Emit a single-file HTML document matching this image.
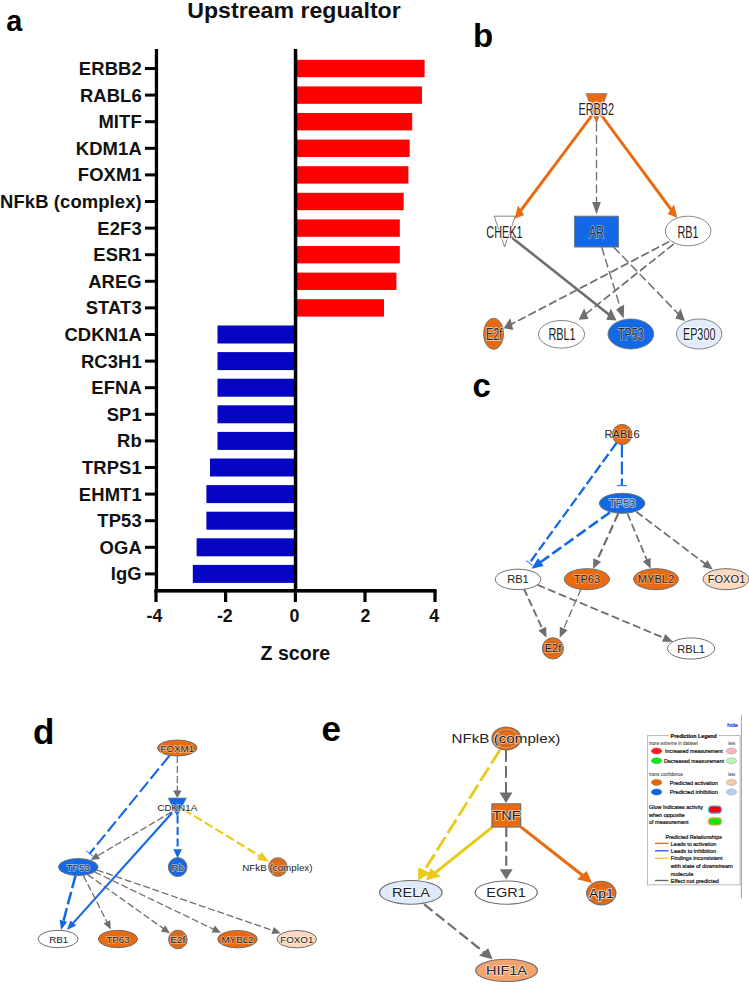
<!DOCTYPE html>
<html lang="en"><head><meta charset="utf-8"><title>Upstream regulator figure</title>
<style>
html,body{margin:0;padding:0;background:#fff;}
body{width:749px;height:985px;overflow:hidden;}
svg{display:block;}
</style></head><body>
<svg width="749" height="985" viewBox="0 0 749 985">
<rect width="749" height="985" fill="#fff"/>
<g id="panelA">
<rect x="296" y="59.8" width="128.6" height="17.4" fill="#ff0000"/>
<rect x="145" y="67.0" width="10" height="3" fill="#000"/>
<text x="141.8" y="75.0" text-anchor="end" font-family="Liberation Sans, Arial, sans-serif" font-size="18.4" font-weight="bold" letter-spacing="0.12" fill="#111">ERBB2</text>
<rect x="296" y="86.4" width="126.0" height="17.4" fill="#ff0000"/>
<rect x="145" y="93.6" width="10" height="3" fill="#000"/>
<text x="141.8" y="101.6" text-anchor="end" font-family="Liberation Sans, Arial, sans-serif" font-size="18.4" font-weight="bold" letter-spacing="0.12" fill="#111">RABL6</text>
<rect x="296" y="113.0" width="116.2" height="17.4" fill="#ff0000"/>
<rect x="145" y="120.2" width="10" height="3" fill="#000"/>
<text x="141.8" y="128.2" text-anchor="end" font-family="Liberation Sans, Arial, sans-serif" font-size="18.4" font-weight="bold" letter-spacing="0.12" fill="#111">MITF</text>
<rect x="296" y="139.6" width="113.7" height="17.4" fill="#ff0000"/>
<rect x="145" y="146.8" width="10" height="3" fill="#000"/>
<text x="141.8" y="154.8" text-anchor="end" font-family="Liberation Sans, Arial, sans-serif" font-size="18.4" font-weight="bold" letter-spacing="0.12" fill="#111">KDM1A</text>
<rect x="296" y="166.2" width="112.4" height="17.4" fill="#ff0000"/>
<rect x="145" y="173.4" width="10" height="3" fill="#000"/>
<text x="141.8" y="181.4" text-anchor="end" font-family="Liberation Sans, Arial, sans-serif" font-size="18.4" font-weight="bold" letter-spacing="0.12" fill="#111">FOXM1</text>
<rect x="296" y="192.8" width="107.7" height="17.4" fill="#ff0000"/>
<rect x="145" y="200.0" width="10" height="3" fill="#000"/>
<text x="141.8" y="208.0" text-anchor="end" font-family="Liberation Sans, Arial, sans-serif" font-size="18.4" font-weight="bold" letter-spacing="0.12" fill="#111">NFkB (complex)</text>
<rect x="296" y="219.4" width="103.8" height="17.4" fill="#ff0000"/>
<rect x="145" y="226.6" width="10" height="3" fill="#000"/>
<text x="141.8" y="234.6" text-anchor="end" font-family="Liberation Sans, Arial, sans-serif" font-size="18.4" font-weight="bold" letter-spacing="0.12" fill="#111">E2F3</text>
<rect x="296" y="246.0" width="103.8" height="17.4" fill="#ff0000"/>
<rect x="145" y="253.2" width="10" height="3" fill="#000"/>
<text x="141.8" y="261.2" text-anchor="end" font-family="Liberation Sans, Arial, sans-serif" font-size="18.4" font-weight="bold" letter-spacing="0.12" fill="#111">ESR1</text>
<rect x="296" y="272.6" width="100.4" height="17.4" fill="#ff0000"/>
<rect x="145" y="279.8" width="10" height="3" fill="#000"/>
<text x="141.8" y="287.8" text-anchor="end" font-family="Liberation Sans, Arial, sans-serif" font-size="18.4" font-weight="bold" letter-spacing="0.12" fill="#111">AREG</text>
<rect x="296" y="299.2" width="88.0" height="17.4" fill="#ff0000"/>
<rect x="145" y="306.4" width="10" height="3" fill="#000"/>
<text x="141.8" y="314.4" text-anchor="end" font-family="Liberation Sans, Arial, sans-serif" font-size="18.4" font-weight="bold" letter-spacing="0.12" fill="#111">STAT3</text>
<rect x="217.5" y="325.5" width="78.5" height="18.0" fill="#0505c2"/>
<rect x="145" y="333.0" width="10" height="3" fill="#000"/>
<text x="141.8" y="341.0" text-anchor="end" font-family="Liberation Sans, Arial, sans-serif" font-size="18.4" font-weight="bold" letter-spacing="0.12" fill="#111">CDKN1A</text>
<rect x="217.5" y="352.1" width="78.5" height="18.0" fill="#0505c2"/>
<rect x="145" y="359.6" width="10" height="3" fill="#000"/>
<text x="141.8" y="367.6" text-anchor="end" font-family="Liberation Sans, Arial, sans-serif" font-size="18.4" font-weight="bold" letter-spacing="0.12" fill="#111">RC3H1</text>
<rect x="217.5" y="378.7" width="78.5" height="18.0" fill="#0505c2"/>
<rect x="145" y="386.2" width="10" height="3" fill="#000"/>
<text x="141.8" y="394.2" text-anchor="end" font-family="Liberation Sans, Arial, sans-serif" font-size="18.4" font-weight="bold" letter-spacing="0.12" fill="#111">EFNA</text>
<rect x="217.5" y="405.3" width="78.5" height="18.0" fill="#0505c2"/>
<rect x="145" y="412.8" width="10" height="3" fill="#000"/>
<text x="141.8" y="420.8" text-anchor="end" font-family="Liberation Sans, Arial, sans-serif" font-size="18.4" font-weight="bold" letter-spacing="0.12" fill="#111">SP1</text>
<rect x="217.5" y="431.9" width="78.5" height="18.0" fill="#0505c2"/>
<rect x="145" y="439.4" width="10" height="3" fill="#000"/>
<text x="141.8" y="447.4" text-anchor="end" font-family="Liberation Sans, Arial, sans-serif" font-size="18.4" font-weight="bold" letter-spacing="0.12" fill="#111">Rb</text>
<rect x="210.0" y="458.5" width="86.0" height="18.0" fill="#0505c2"/>
<rect x="145" y="466.0" width="10" height="3" fill="#000"/>
<text x="141.8" y="474.0" text-anchor="end" font-family="Liberation Sans, Arial, sans-serif" font-size="18.4" font-weight="bold" letter-spacing="0.12" fill="#111">TRPS1</text>
<rect x="206.4" y="485.1" width="89.6" height="18.0" fill="#0505c2"/>
<rect x="145" y="492.6" width="10" height="3" fill="#000"/>
<text x="141.8" y="500.6" text-anchor="end" font-family="Liberation Sans, Arial, sans-serif" font-size="18.4" font-weight="bold" letter-spacing="0.12" fill="#111">EHMT1</text>
<rect x="206.4" y="511.7" width="89.6" height="18.0" fill="#0505c2"/>
<rect x="145" y="519.2" width="10" height="3" fill="#000"/>
<text x="141.8" y="527.2" text-anchor="end" font-family="Liberation Sans, Arial, sans-serif" font-size="18.4" font-weight="bold" letter-spacing="0.12" fill="#111">TP53</text>
<rect x="196.6" y="538.3" width="99.4" height="18.0" fill="#0505c2"/>
<rect x="145" y="545.8" width="10" height="3" fill="#000"/>
<text x="141.8" y="553.8" text-anchor="end" font-family="Liberation Sans, Arial, sans-serif" font-size="18.4" font-weight="bold" letter-spacing="0.12" fill="#111">OGA</text>
<rect x="192.8" y="564.9" width="103.2" height="18.0" fill="#0505c2"/>
<rect x="145" y="572.4" width="10" height="3" fill="#000"/>
<text x="141.8" y="580.4" text-anchor="end" font-family="Liberation Sans, Arial, sans-serif" font-size="18.4" font-weight="bold" letter-spacing="0.12" fill="#111">IgG</text>
<rect x="154.8" y="49" width="3.3" height="543" fill="#000"/>
<rect x="293.8" y="49" width="3.5" height="543" fill="#000"/>
<rect x="154.5" y="589" width="282" height="3.6" fill="#000"/>
<rect x="154.4" y="590" width="3.2" height="12" fill="#000"/>
<text x="154.5" y="621.8" text-anchor="middle" font-family="Liberation Sans, Arial, sans-serif" font-size="17.8" font-weight="bold" fill="#111">-4</text>
<rect x="224.0" y="590" width="3.2" height="12" fill="#000"/>
<text x="224.8" y="621.8" text-anchor="middle" font-family="Liberation Sans, Arial, sans-serif" font-size="17.8" font-weight="bold" fill="#111">-2</text>
<rect x="293.8" y="590" width="3.2" height="12" fill="#000"/>
<text x="294.4" y="621.8" text-anchor="middle" font-family="Liberation Sans, Arial, sans-serif" font-size="17.8" font-weight="bold" fill="#111">0</text>
<rect x="363.4" y="590" width="3.2" height="12" fill="#000"/>
<text x="365.4" y="621.8" text-anchor="middle" font-family="Liberation Sans, Arial, sans-serif" font-size="17.8" font-weight="bold" fill="#111">2</text>
<rect x="433.4" y="590" width="3.2" height="12" fill="#000"/>
<text x="434.3" y="621.8" text-anchor="middle" font-family="Liberation Sans, Arial, sans-serif" font-size="17.8" font-weight="bold" fill="#111">4</text>
<text x="295.4" y="659.5" text-anchor="middle" font-family="Liberation Sans, Arial, sans-serif" font-size="19.6" font-weight="bold" fill="#111">Z score</text>
<text x="294" y="17.7" text-anchor="middle" font-family="Liberation Sans, Arial, sans-serif" font-size="21.5" font-weight="bold" fill="#111" textLength="213.5" lengthAdjust="spacingAndGlyphs">Upstream regualtor</text>
</g>
<text x="6.2" y="30.6" font-family="Liberation Sans, Arial, sans-serif" font-size="28.8" font-weight="bold" fill="#000">a</text>
<text x="473" y="46.7" font-family="Liberation Sans, Arial, sans-serif" font-size="33" font-weight="bold" fill="#000">b</text>
<text x="472.5" y="396.5" font-family="Liberation Sans, Arial, sans-serif" font-size="33" font-weight="bold" fill="#000">c</text>
<text x="33" y="744" font-family="Liberation Sans, Arial, sans-serif" font-size="35" font-weight="bold" fill="#000">d</text>
<text x="321.5" y="741" font-family="Liberation Sans, Arial, sans-serif" font-size="35" font-weight="bold" fill="#000">e</text>
<g id="panelB" transform="matrix(0.7 0 0 1 180.000 0)">
<line x1="590.0" y1="114.0" x2="485.4" y2="211.9" stroke="#ea6b0f" stroke-width="3.66"/>
<polygon points="478.1,218.7 482.8,205.4 491.7,214.9" fill="#ea6b0f"/>
<line x1="600.7" y1="114.0" x2="703.0" y2="210.9" stroke="#ea6b0f" stroke-width="3.66"/>
<polygon points="710.3,217.8 696.7,213.9 705.7,204.5" fill="#ea6b0f"/>
<line x1="595.0" y1="122.9" x2="595.0" y2="204.5" stroke="#6e6e6e" stroke-width="1.86" stroke-dasharray="8.50 3.80"/>
<polygon points="595.0,214.5 588.8,202.0 601.2,202.0" fill="#6e6e6e"/>
<line x1="472.9" y1="236.9" x2="614.5" y2="315.4" stroke="#6e6e6e" stroke-width="2.90"/>
<polygon points="623.6,320.4 609.0,319.8 615.4,308.4" fill="#6e6e6e"/>
<line x1="602.3" y1="246.9" x2="629.8" y2="309.4" stroke="#6e6e6e" stroke-width="1.92" stroke-dasharray="9.40 3.66"/>
<polygon points="633.9,318.5 623.1,309.6 634.5,304.5" fill="#6e6e6e"/>
<line x1="619.3" y1="246.9" x2="713.3" y2="315.0" stroke="#6e6e6e" stroke-width="1.81" stroke-dasharray="11.03 4.29"/>
<polygon points="721.4,320.9 707.6,318.6 715.0,308.5" fill="#6e6e6e"/>
<line x1="699.1" y1="241.5" x2="471.7" y2="324.9" stroke="#6e6e6e" stroke-width="1.85" stroke-dasharray="11.32 4.31"/>
<polygon points="462.3,328.3 471.9,318.1 476.2,329.9" fill="#6e6e6e"/>
<line x1="705.3" y1="244.0" x2="578.3" y2="314.8" stroke="#6e6e6e" stroke-width="1.84" stroke-dasharray="10.75 4.09"/>
<polygon points="569.6,319.7 577.4,308.2 583.5,319.1" fill="#6e6e6e"/>
<polygon points="580.0,93.6 610.0,93.6 595.0,122.9" fill="#ea6b0f" stroke="#8a7a70" stroke-width="0.9"/>
<polygon points="448.9,216.2 478.9,216.2 463.7,246.8" fill="#fff" stroke="#6e6e6e" stroke-width="1"/>
<rect x="563.3" y="216.2" width="63.3" height="30.8" fill="#1268e6" stroke="#6e6e6e" stroke-width="1"/>
<ellipse cx="725.9" cy="231.0" rx="32.6" ry="14.8" fill="#fff" stroke="#6e6e6e" stroke-width="1"/>
<ellipse cx="448.0" cy="333.8" rx="14.3" ry="15.6" fill="#ea6b0f" stroke="#6e6e6e" stroke-width="1"/>
<ellipse cx="448.0" cy="333.8" rx="9.7" ry="10.6" fill="none" stroke="#8a6e5c" stroke-width="0.8" opacity="0.8"/>
<ellipse cx="545.0" cy="334.3" rx="32.9" ry="13.8" fill="#fff" stroke="#6e6e6e" stroke-width="1"/>
<ellipse cx="644.1" cy="334.0" rx="32.7" ry="15.0" fill="#1268e6" stroke="#6e6e6e" stroke-width="1"/>
<ellipse cx="741.7" cy="334.0" rx="32.4" ry="15.0" fill="#e2ecfb" stroke="#6e6e6e" stroke-width="1"/>
<text transform="translate(594.7,114.9) scale(0.9500,1)" text-anchor="middle" font-family="Liberation Sans, Arial, sans-serif" font-size="16.3" font-weight="normal" fill="#222" stroke="#fff" stroke-width="2.4" stroke-opacity="0.9" stroke-linejoin="round" paint-order="stroke">ERBB2</text>
<text transform="translate(463.4,237.7) scale(0.9500,1)" text-anchor="middle" font-family="Liberation Sans, Arial, sans-serif" font-size="16.3" font-weight="normal" fill="#222" stroke="#fff" stroke-width="2.4" stroke-opacity="0.9" stroke-linejoin="round" paint-order="stroke">CHEK1</text>
<text transform="translate(594.9,237.6) scale(0.9500,1)" text-anchor="middle" font-family="Liberation Sans, Arial, sans-serif" font-size="16.3" font-weight="normal" fill="#2a2a2a" stroke="#fff" stroke-width="1.7" stroke-opacity="0.55" stroke-linejoin="round" paint-order="stroke">AR</text>
<text transform="translate(725.7,237.6) scale(0.9500,1)" text-anchor="middle" font-family="Liberation Sans, Arial, sans-serif" font-size="16.3" font-weight="normal" fill="#222" stroke="#fff" stroke-width="2.4" stroke-opacity="0.9" stroke-linejoin="round" paint-order="stroke">RB1</text>
<text transform="translate(448.7,339.9) scale(0.9500,1)" text-anchor="middle" font-family="Liberation Sans, Arial, sans-serif" font-size="16.3" font-weight="normal" fill="#2a2a2a" stroke="#fff" stroke-width="1.8" stroke-opacity="0.6" stroke-linejoin="round" paint-order="stroke">E2f</text>
<text transform="translate(545.7,340.2) scale(0.9500,1)" text-anchor="middle" font-family="Liberation Sans, Arial, sans-serif" font-size="16.3" font-weight="normal" fill="#222" stroke="#fff" stroke-width="2.4" stroke-opacity="0.9" stroke-linejoin="round" paint-order="stroke">RBL1</text>
<text transform="translate(644.1,340.0) scale(0.9500,1)" text-anchor="middle" font-family="Liberation Sans, Arial, sans-serif" font-size="16.3" font-weight="normal" fill="#2a2a2a" stroke="#fff" stroke-width="1.7" stroke-opacity="0.55" stroke-linejoin="round" paint-order="stroke">TP53</text>
<text transform="translate(741.7,340.0) scale(0.9500,1)" text-anchor="middle" font-family="Liberation Sans, Arial, sans-serif" font-size="16.3" font-weight="normal" fill="#222" stroke="#fff" stroke-width="2.4" stroke-opacity="0.9" stroke-linejoin="round" paint-order="stroke">EP300</text>
</g>
<g id="panelC">
<line x1="621.9" y1="444.6" x2="621.9" y2="485.6" stroke="#1268e6" stroke-width="2.20" stroke-dasharray="13.00 4.00"/>
<line x1="616.9" y1="485.6" x2="626.9" y2="485.6" stroke="#1268e6" stroke-width="1.0"/>
<line x1="616.5" y1="443.0" x2="529.5" y2="563.0" stroke="#1268e6" stroke-width="2.30" stroke-dasharray="10.00 3.60"/>
<line x1="526.1" y1="560.5" x2="532.9" y2="565.5" stroke="#1268e6" stroke-width="1.0"/>
<line x1="610.0" y1="512.4" x2="539.0" y2="563.3" stroke="#1268e6" stroke-width="2.60" stroke-dasharray="11.00 4.00"/>
<polygon points="531.5,568.7 538.1,558.1 543.6,565.9" fill="#1268e6"/>
<line x1="618.3" y1="513.4" x2="596.4" y2="561.8" stroke="#6e6e6e" stroke-width="2.20" stroke-dasharray="9.00 4.00"/>
<polygon points="593.1,569.1 593.3,558.2 601.1,561.7" fill="#6e6e6e"/>
<line x1="627.3" y1="513.4" x2="647.5" y2="561.4" stroke="#6e6e6e" stroke-width="1.70" stroke-dasharray="8.00 3.50"/>
<polygon points="650.6,568.8 642.8,561.2 650.6,557.9" fill="#6e6e6e"/>
<line x1="636.3" y1="511.7" x2="706.4" y2="564.7" stroke="#6e6e6e" stroke-width="1.70" stroke-dasharray="8.00 3.50"/>
<polygon points="712.8,569.5 702.3,566.9 707.4,560.1" fill="#6e6e6e"/>
<line x1="523.8" y1="588.5" x2="543.1" y2="630.4" stroke="#6e6e6e" stroke-width="1.90" stroke-dasharray="8.00 3.50"/>
<polygon points="546.5,637.7 538.5,630.4 546.2,626.8" fill="#6e6e6e"/>
<line x1="581.3" y1="588.5" x2="562.9" y2="630.4" stroke="#6e6e6e" stroke-width="1.30" stroke-dasharray="8.00 3.50"/>
<polygon points="559.7,637.7 559.8,626.8 567.6,630.3" fill="#6e6e6e"/>
<line x1="537.5" y1="584.9" x2="665.5" y2="638.6" stroke="#6e6e6e" stroke-width="1.80" stroke-dasharray="8.00 3.50"/>
<polygon points="672.9,641.7 662.0,641.8 665.3,633.9" fill="#6e6e6e"/>
<ellipse cx="622.1" cy="434.5" rx="9.8" ry="10.1" fill="#ea6b0f" stroke="#6e6e6e" stroke-width="1"/>
<ellipse cx="622.1" cy="503.3" rx="22.7" ry="10.0" fill="#1268e6" stroke="#6e6e6e" stroke-width="1"/>
<ellipse cx="518.0" cy="579.4" rx="22.8" ry="10.2" fill="#fff" stroke="#6e6e6e" stroke-width="1"/>
<ellipse cx="586.9" cy="579.2" rx="22.6" ry="10.5" fill="#ea6b0f" stroke="#6e6e6e" stroke-width="1"/>
<ellipse cx="656.0" cy="579.2" rx="22.4" ry="10.5" fill="#ea6b0f" stroke="#6e6e6e" stroke-width="1"/>
<ellipse cx="726.0" cy="579.2" rx="23.0" ry="10.5" fill="#fad9c0" stroke="#6e6e6e" stroke-width="1"/>
<ellipse cx="552.9" cy="648.4" rx="10.6" ry="10.6" fill="#ea6b0f" stroke="#6e6e6e" stroke-width="1"/>
<ellipse cx="552.9" cy="648.4" rx="7.2" ry="7.2" fill="none" stroke="#8a6e5c" stroke-width="0.8" opacity="0.8"/>
<ellipse cx="691.1" cy="648.5" rx="23.6" ry="10.6" fill="#fff" stroke="#6e6e6e" stroke-width="1"/>
<text transform="translate(622.1,438.3) scale(1.0000,1)" text-anchor="middle" font-family="Liberation Sans, Arial, sans-serif" font-size="11.1" font-weight="normal" fill="#222" stroke="#fff" stroke-width="1.4" stroke-opacity="0.5" stroke-linejoin="round" paint-order="stroke">RABL6</text>
<text transform="translate(622.1,507.4) scale(1.0000,1)" text-anchor="middle" font-family="Liberation Sans, Arial, sans-serif" font-size="11" font-weight="normal" fill="#444" stroke="#fff" stroke-width="1.8" stroke-opacity="0.6" stroke-linejoin="round" paint-order="stroke">TP53</text>
<text transform="translate(518.0,583.3) scale(1.0000,1)" text-anchor="middle" font-family="Liberation Sans, Arial, sans-serif" font-size="11.1" font-weight="normal" fill="#222" stroke="#fff" stroke-width="1.4" stroke-opacity="0.5" stroke-linejoin="round" paint-order="stroke">RB1</text>
<text transform="translate(586.9,583.1) scale(1.0000,1)" text-anchor="middle" font-family="Liberation Sans, Arial, sans-serif" font-size="11.1" font-weight="normal" fill="#222" stroke="#fff" stroke-width="1.4" stroke-opacity="0.5" stroke-linejoin="round" paint-order="stroke">TP63</text>
<text transform="translate(656.0,583.1) scale(1.0000,1)" text-anchor="middle" font-family="Liberation Sans, Arial, sans-serif" font-size="11.1" font-weight="normal" fill="#222" stroke="#fff" stroke-width="1.4" stroke-opacity="0.5" stroke-linejoin="round" paint-order="stroke">MYBL2</text>
<text transform="translate(726.5,583.1) scale(1.0000,1)" text-anchor="middle" font-family="Liberation Sans, Arial, sans-serif" font-size="11.1" font-weight="normal" fill="#222" stroke="#fff" stroke-width="1.4" stroke-opacity="0.5" stroke-linejoin="round" paint-order="stroke">FOXO1</text>
<text transform="translate(553.0,652.0) scale(1.0000,1)" text-anchor="middle" font-family="Liberation Sans, Arial, sans-serif" font-size="11.1" font-weight="normal" fill="#222" stroke="#fff" stroke-width="1.4" stroke-opacity="0.5" stroke-linejoin="round" paint-order="stroke">E2f</text>
<text transform="translate(691.1,652.6) scale(1.0000,1)" text-anchor="middle" font-family="Liberation Sans, Arial, sans-serif" font-size="11.1" font-weight="normal" fill="#222" stroke="#fff" stroke-width="1.4" stroke-opacity="0.5" stroke-linejoin="round" paint-order="stroke">RBL1</text>
</g>
<g id="panelD">
<line x1="177.3" y1="756.3" x2="177.3" y2="792.1" stroke="#6e6e6e" stroke-width="1.20" stroke-dasharray="7.00 2.80"/>
<polygon points="177.3,798.1 173.1,790.6 181.6,790.6" fill="#6e6e6e"/>
<line x1="169.6" y1="755.5" x2="89.7" y2="853.6" stroke="#1268e6" stroke-width="2.10" stroke-dasharray="13.00 4.00"/>
<line x1="86.2" y1="850.8" x2="93.2" y2="856.4" stroke="#1268e6" stroke-width="1.0"/>
<line x1="171.7" y1="811.9" x2="96.5" y2="856.5" stroke="#6e6e6e" stroke-width="1.30" stroke-dasharray="7.00 2.80"/>
<polygon points="90.7,860.0 96.1,852.4 99.9,858.9" fill="#6e6e6e"/>
<line x1="172.2" y1="812.8" x2="72.0" y2="924.4" stroke="#1268e6" stroke-width="2.10"/>
<polygon points="66.9,930.1 70.4,920.4 76.2,925.6" fill="#1268e6"/>
<line x1="177.6" y1="815.5" x2="177.6" y2="851.0" stroke="#1268e6" stroke-width="2.10" stroke-dasharray="8.00 3.50"/>
<polygon points="177.6,858.2 173.3,849.2 181.9,849.2" fill="#1268e6"/>
<line x1="183.5" y1="809.3" x2="261.4" y2="857.1" stroke="#eccb1c" stroke-width="2.20" stroke-dasharray="9.00 3.50"/>
<polygon points="268.9,861.7 257.2,859.8 261.9,852.1" fill="#eccb1c"/>
<line x1="75.5" y1="875.6" x2="63.0" y2="922.7" stroke="#1268e6" stroke-width="2.50" stroke-dasharray="13.00 3.80"/>
<polygon points="61.0,930.1 59.7,919.8 67.2,921.8" fill="#1268e6"/>
<line x1="83.4" y1="875.6" x2="107.7" y2="923.4" stroke="#6e6e6e" stroke-width="1.30" stroke-dasharray="7.00 2.80"/>
<polygon points="110.8,929.5 103.6,923.6 110.3,920.2" fill="#6e6e6e"/>
<line x1="87.7" y1="874.6" x2="164.4" y2="929.3" stroke="#6e6e6e" stroke-width="1.30" stroke-dasharray="7.00 2.80"/>
<polygon points="169.9,933.3 160.8,931.4 165.2,925.3" fill="#6e6e6e"/>
<line x1="94.8" y1="872.0" x2="214.8" y2="929.8" stroke="#6e6e6e" stroke-width="1.30" stroke-dasharray="7.00 2.80"/>
<polygon points="220.9,932.7 211.6,932.4 214.9,925.6" fill="#6e6e6e"/>
<line x1="96.9" y1="870.0" x2="274.3" y2="931.0" stroke="#6e6e6e" stroke-width="1.30" stroke-dasharray="7.00 2.80"/>
<polygon points="280.7,933.2 271.4,934.0 273.9,926.9" fill="#6e6e6e"/>
<ellipse cx="177.3" cy="748.0" rx="19.8" ry="8.0" fill="#ea6b0f" stroke="#6e6e6e" stroke-width="1"/>
<polygon points="168.2,798.1 186.4,798.1 177.2,816" fill="#1268e6" stroke="#6b7a90" stroke-width="0.7"/>
<ellipse cx="78.2" cy="867.1" rx="19.8" ry="8.5" fill="#1268e6" stroke="#6e6e6e" stroke-width="1"/>
<ellipse cx="177.7" cy="867.1" rx="9.3" ry="9.5" fill="#1268e6" stroke="#6e6e6e" stroke-width="1"/>
<ellipse cx="277.9" cy="867.0" rx="9.3" ry="9.3" fill="#ea6b0f" stroke="#6e6e6e" stroke-width="1"/>
<ellipse cx="277.9" cy="867.0" rx="6.3" ry="6.3" fill="none" stroke="#8a6e5c" stroke-width="0.8" opacity="0.8"/>
<ellipse cx="58.1" cy="939.0" rx="20.0" ry="8.7" fill="#fff" stroke="#6e6e6e" stroke-width="1"/>
<ellipse cx="117.9" cy="939.0" rx="19.6" ry="8.7" fill="#ea6b0f" stroke="#6e6e6e" stroke-width="1"/>
<ellipse cx="177.9" cy="939.5" rx="9.3" ry="9.3" fill="#ea6b0f" stroke="#6e6e6e" stroke-width="1"/>
<ellipse cx="177.9" cy="939.5" rx="6.3" ry="6.3" fill="none" stroke="#8a6e5c" stroke-width="0.8" opacity="0.8"/>
<ellipse cx="237.5" cy="939.2" rx="19.8" ry="8.7" fill="#ea6b0f" stroke="#6e6e6e" stroke-width="1"/>
<ellipse cx="296.8" cy="939.2" rx="19.8" ry="8.7" fill="#fad9c0" stroke="#6e6e6e" stroke-width="1"/>
<text transform="translate(177.3,751.7) scale(1.0000,1)" text-anchor="middle" font-family="Liberation Sans, Arial, sans-serif" font-size="9.8" font-weight="normal" fill="#222" stroke="#fff" stroke-width="1.5" stroke-opacity="0.55" stroke-linejoin="round" paint-order="stroke">FOXM1</text>
<text transform="translate(177.3,811.4) scale(1.0000,1)" text-anchor="middle" font-family="Liberation Sans, Arial, sans-serif" font-size="9.8" font-weight="normal" fill="#222" stroke="#fff" stroke-width="1.6" stroke-opacity="0.6" stroke-linejoin="round" paint-order="stroke">CDKN1A</text>
<text transform="translate(78.2,870.9) scale(1.0000,1)" text-anchor="middle" font-family="Liberation Sans, Arial, sans-serif" font-size="9.8" font-weight="normal" fill="#2c2c2c" stroke="#fff" stroke-width="1.4" stroke-opacity="0.6" stroke-linejoin="round" paint-order="stroke">TP53</text>
<text transform="translate(177.7,870.8) scale(1.0000,1)" text-anchor="middle" font-family="Liberation Sans, Arial, sans-serif" font-size="9.8" font-weight="normal" fill="#2c2c2c" stroke="#fff" stroke-width="1.4" stroke-opacity="0.6" stroke-linejoin="round" paint-order="stroke">Rb</text>
<text transform="translate(277.4,870.7) scale(1.0000,1)" text-anchor="middle" font-family="Liberation Sans, Arial, sans-serif" font-size="9.8" font-weight="normal" fill="#222" stroke="#fff" stroke-width="1.5" stroke-opacity="0.5" stroke-linejoin="round" paint-order="stroke">NFkB (complex)</text>
<text transform="translate(58.7,942.5) scale(1.0000,1)" text-anchor="middle" font-family="Liberation Sans, Arial, sans-serif" font-size="9.8" font-weight="normal" fill="#222" stroke="#fff" stroke-width="1.4" stroke-opacity="0.5" stroke-linejoin="round" paint-order="stroke">RB1</text>
<text transform="translate(117.9,942.5) scale(1.0000,1)" text-anchor="middle" font-family="Liberation Sans, Arial, sans-serif" font-size="9.8" font-weight="normal" fill="#222" stroke="#fff" stroke-width="1.4" stroke-opacity="0.5" stroke-linejoin="round" paint-order="stroke">TP63</text>
<text transform="translate(177.9,943.0) scale(1.0000,1)" text-anchor="middle" font-family="Liberation Sans, Arial, sans-serif" font-size="9.8" font-weight="normal" fill="#222" stroke="#fff" stroke-width="1.4" stroke-opacity="0.5" stroke-linejoin="round" paint-order="stroke">E2f</text>
<text transform="translate(237.5,942.7) scale(1.0000,1)" text-anchor="middle" font-family="Liberation Sans, Arial, sans-serif" font-size="9.8" font-weight="normal" fill="#222" stroke="#fff" stroke-width="1.4" stroke-opacity="0.5" stroke-linejoin="round" paint-order="stroke">MYBL2</text>
<text transform="translate(296.8,942.7) scale(1.0000,1)" text-anchor="middle" font-family="Liberation Sans, Arial, sans-serif" font-size="9.8" font-weight="normal" fill="#222" stroke="#fff" stroke-width="1.4" stroke-opacity="0.5" stroke-linejoin="round" paint-order="stroke">FOXO1</text>
</g>
<g id="panelE" transform="matrix(1.22 0 0 1 -111.320 0)">
<line x1="500.9" y1="750.1" x2="438.2" y2="872.3" stroke="#e9c91a" stroke-width="2.41" stroke-dasharray="15.24 4.29"/>
<polygon points="434.0,880.5 434.1,867.6 444.3,872.9" fill="#e9c91a"/>
<line x1="506.0" y1="750.1" x2="506.0" y2="794.7" stroke="#6e6e6e" stroke-width="1.64" stroke-dasharray="11.70 4.20"/>
<polygon points="506.0,802.9 500.7,792.6 511.3,792.6" fill="#6e6e6e"/>
<line x1="494.9" y1="827.0" x2="446.7" y2="874.0" stroke="#e9c91a" stroke-width="2.66"/>
<polygon points="440.1,880.4 444.3,868.3 452.3,876.5" fill="#e9c91a"/>
<line x1="506.2" y1="827.0" x2="506.2" y2="871.4" stroke="#6e6e6e" stroke-width="1.80" stroke-dasharray="10.00 4.40"/>
<polygon points="506.2,879.6 500.9,869.3 511.5,869.3" fill="#6e6e6e"/>
<line x1="518.3" y1="827.0" x2="569.9" y2="876.6" stroke="#ea6b0f" stroke-width="2.84"/>
<polygon points="576.5,883.0 564.2,879.2 572.2,870.9" fill="#ea6b0f"/>
<line x1="438.9" y1="904.2" x2="489.1" y2="953.4" stroke="#6e6e6e" stroke-width="2.02" stroke-dasharray="9.66 3.85"/>
<polygon points="495.0,959.2 483.9,955.8 491.4,948.2" fill="#6e6e6e"/>
<ellipse cx="506.3" cy="738.6" rx="11.8" ry="11.5" fill="#ea6b0f" stroke="#6e6e6e" stroke-width="1"/>
<ellipse cx="506.3" cy="738.6" rx="8.0" ry="7.8" fill="none" stroke="#8a6e5c" stroke-width="0.8" opacity="0.8"/>
<ellipse cx="506.3" cy="738.6" rx="9.8" ry="9.4" fill="none" stroke="#f6b98a" stroke-width="0.8" opacity="0.6"/>
<rect x="494.5" y="803.8" width="23.5" height="23.3" fill="#ea6b0f" stroke="#6e6e6e" stroke-width="1"/>
<ellipse cx="428.0" cy="892.4" rx="25.6" ry="11.8" fill="#dfeafb" stroke="#6e6e6e" stroke-width="1"/>
<ellipse cx="506.2" cy="892.6" rx="25.5" ry="11.6" fill="#fff" stroke="#6e6e6e" stroke-width="1"/>
<ellipse cx="584.1" cy="893.1" rx="12.0" ry="11.8" fill="#ea6b0f" stroke="#6e6e6e" stroke-width="1"/>
<ellipse cx="584.1" cy="893.1" rx="8.1" ry="8.0" fill="none" stroke="#8a6e5c" stroke-width="0.8" opacity="0.8"/>
<ellipse cx="506.5" cy="970.4" rx="25.3" ry="11.2" fill="#f4a36c" stroke="#6e6e6e" stroke-width="1"/>
<text transform="translate(505.9,743.0) scale(1.0041,1)" text-anchor="middle" font-family="Liberation Sans, Arial, sans-serif" font-size="12.4" font-weight="normal" fill="#222" stroke="#fff" stroke-width="1.5" stroke-opacity="0.7" stroke-linejoin="round" paint-order="stroke">NFkB (complex)</text>
<text transform="translate(506.5,820.0) scale(0.9590,1)" text-anchor="middle" font-family="Liberation Sans, Arial, sans-serif" font-size="12.4" font-weight="normal" fill="#222" stroke="#fff" stroke-width="1.5" stroke-opacity="0.7" stroke-linejoin="round" paint-order="stroke">TNF</text>
<text transform="translate(428.1,897.0) scale(0.9590,1)" text-anchor="middle" font-family="Liberation Sans, Arial, sans-serif" font-size="12.4" font-weight="normal" fill="#222" stroke="#fff" stroke-width="1.5" stroke-opacity="0.7" stroke-linejoin="round" paint-order="stroke">RELA</text>
<text transform="translate(506.0,897.0) scale(0.9590,1)" text-anchor="middle" font-family="Liberation Sans, Arial, sans-serif" font-size="12.4" font-weight="normal" fill="#222" stroke="#fff" stroke-width="1.5" stroke-opacity="0.7" stroke-linejoin="round" paint-order="stroke">EGR1</text>
<text transform="translate(584.1,897.5) scale(0.9180,1)" text-anchor="middle" font-family="Liberation Sans, Arial, sans-serif" font-size="12.4" font-weight="normal" fill="#111" stroke="#fff" stroke-width="1.6" stroke-opacity="0.85" stroke-linejoin="round" paint-order="stroke">Ap1</text>
<text transform="translate(506.4,974.8) scale(0.9590,1)" text-anchor="middle" font-family="Liberation Sans, Arial, sans-serif" font-size="12.4" font-weight="normal" fill="#222" stroke="#fff" stroke-width="1.5" stroke-opacity="0.7" stroke-linejoin="round" paint-order="stroke">HIF1A</text>
</g>
<g id="legend">
<line x1="741.4" y1="715.2" x2="741.4" y2="800" stroke="#8d8d8d" stroke-width="0.8"/>
<line x1="741.4" y1="800" x2="741.4" y2="898.3" stroke="#7585b5" stroke-width="0.8"/>
<rect x="647.3" y="735.7" width="92.8" height="149.2" fill="#fff" stroke="#9a9a9a" stroke-width="0.7"/>
<rect x="669" y="733" width="49.5" height="6" fill="#fff"/>
<text x="727.2" y="726.7" font-family="Liberation Sans, Arial, sans-serif" font-size="6.0" font-weight="normal" fill="#2a2ae0" stroke="#2a2ae0" stroke-width="0.22" text-anchor="start" textLength="10.6" lengthAdjust="spacingAndGlyphs">hide</text>
<text x="670.6" y="737.8" font-family="Liberation Sans, Arial, sans-serif" font-size="6.0" font-weight="bold" fill="#111" stroke="#111" stroke-width="0.22" text-anchor="start" textLength="46.2" lengthAdjust="spacingAndGlyphs">Prediction Legend</text>
<text x="649" y="744.9" font-family="Liberation Sans, Arial, sans-serif" font-size="4.8" font-weight="normal" fill="#333" stroke="#333" stroke-width="0.05" text-anchor="start" textLength="48.8" lengthAdjust="spacingAndGlyphs">more extreme in dataset</text>
<text x="728.3" y="744.9" font-family="Liberation Sans, Arial, sans-serif" font-size="4.8" font-weight="normal" fill="#333" stroke="#333" stroke-width="0.05" text-anchor="start" textLength="7" lengthAdjust="spacingAndGlyphs">less</text>
<ellipse cx="656.6" cy="751" rx="5.2" ry="3" fill="#f81f2a" stroke="#c22" stroke-width="0.5"/>
<text x="665" y="753.1" font-family="Liberation Sans, Arial, sans-serif" font-size="5.8" font-weight="normal" fill="#111" stroke="#111" stroke-width="0.22" text-anchor="start" textLength="57.7" lengthAdjust="spacingAndGlyphs">Increased measurement</text>
<ellipse cx="731.4" cy="751" rx="5.2" ry="3" fill="#fbb6bc" stroke="#999" stroke-width="0.5"/>
<ellipse cx="656.6" cy="760.7" rx="5.2" ry="3" fill="#12e62a" stroke="#2b2" stroke-width="0.5"/>
<text x="664" y="762.8" font-family="Liberation Sans, Arial, sans-serif" font-size="5.8" font-weight="normal" fill="#111" stroke="#111" stroke-width="0.22" text-anchor="start" textLength="60" lengthAdjust="spacingAndGlyphs">Decreased measurement</text>
<ellipse cx="731.4" cy="760.7" rx="5.2" ry="3" fill="#b5f7b5" stroke="#999" stroke-width="0.5"/>
<text x="649" y="776.3" font-family="Liberation Sans, Arial, sans-serif" font-size="4.8" font-weight="normal" fill="#333" stroke="#333" stroke-width="0.05" text-anchor="start" textLength="34.2" lengthAdjust="spacingAndGlyphs">more confidence</text>
<text x="728.3" y="776.3" font-family="Liberation Sans, Arial, sans-serif" font-size="4.8" font-weight="normal" fill="#333" stroke="#333" stroke-width="0.05" text-anchor="start" textLength="7" lengthAdjust="spacingAndGlyphs">less</text>
<ellipse cx="656.6" cy="782.4" rx="5.2" ry="3" fill="#e2660c" stroke="#c60" stroke-width="0.5"/>
<text x="669.8" y="784.5" font-family="Liberation Sans, Arial, sans-serif" font-size="5.8" font-weight="normal" fill="#111" stroke="#111" stroke-width="0.22" text-anchor="start" textLength="48.1" lengthAdjust="spacingAndGlyphs">Predicted activation</text>
<ellipse cx="731.4" cy="782.4" rx="5.2" ry="3" fill="#f7cba2" stroke="#999" stroke-width="0.5"/>
<ellipse cx="656.6" cy="792" rx="5.2" ry="3" fill="#0f62e0" stroke="#05c" stroke-width="0.5"/>
<text x="669.8" y="794.1" font-family="Liberation Sans, Arial, sans-serif" font-size="5.8" font-weight="normal" fill="#111" stroke="#111" stroke-width="0.22" text-anchor="start" textLength="48.1" lengthAdjust="spacingAndGlyphs">Predicted inhibition</text>
<ellipse cx="731.4" cy="792" rx="5.2" ry="3" fill="#b3d0f4" stroke="#999" stroke-width="0.5"/>
<text x="649" y="809" font-family="Liberation Sans, Arial, sans-serif" font-size="5.8" font-weight="normal" fill="#111" stroke="#111" stroke-width="0.22" text-anchor="start" textLength="53.9" lengthAdjust="spacingAndGlyphs">Glow Indicates activity</text>
<text x="649" y="816.6" font-family="Liberation Sans, Arial, sans-serif" font-size="5.8" font-weight="normal" fill="#111" stroke="#111" stroke-width="0.22" text-anchor="start" textLength="35.5" lengthAdjust="spacingAndGlyphs">when opposite</text>
<text x="649" y="824.2" font-family="Liberation Sans, Arial, sans-serif" font-size="5.8" font-weight="normal" fill="#111" stroke="#111" stroke-width="0.22" text-anchor="start" textLength="39.5" lengthAdjust="spacingAndGlyphs">of measurement</text>
<rect x="708.6" y="806" width="12.8" height="7.2" rx="3.4" fill="#f00" stroke="#5aa4ee" stroke-width="1.2"/>
<rect x="708.6" y="817.8" width="12.8" height="7.2" rx="3.4" fill="#0e0" stroke="#f39a5a" stroke-width="1.2"/>
<text x="665.5" y="838.6" font-family="Liberation Sans, Arial, sans-serif" font-size="5.8" font-weight="normal" fill="#111" stroke="#111" stroke-width="0.22" text-anchor="start" textLength="56.4" lengthAdjust="spacingAndGlyphs">Predicted Relationships</text>
<line x1="655" y1="843.4" x2="668.4" y2="843.4" stroke="#e66a1c" stroke-width="1.35"/>
<text x="670.8" y="845.8" font-family="Liberation Sans, Arial, sans-serif" font-size="5.8" font-weight="normal" fill="#111" stroke="#111" stroke-width="0.22" text-anchor="start" textLength="45.6" lengthAdjust="spacingAndGlyphs">Leads to activation</text>
<line x1="655" y1="850.8" x2="668.4" y2="850.8" stroke="#1860e0" stroke-width="1.35"/>
<text x="670.8" y="853" font-family="Liberation Sans, Arial, sans-serif" font-size="5.8" font-weight="normal" fill="#111" stroke="#111" stroke-width="0.22" text-anchor="start" textLength="45.2" lengthAdjust="spacingAndGlyphs">Leads to inhibition</text>
<line x1="655" y1="858.2" x2="668.4" y2="858.2" stroke="#e8c830" stroke-width="1.35"/>
<text x="670.8" y="860.3" font-family="Liberation Sans, Arial, sans-serif" font-size="5.8" font-weight="normal" fill="#111" stroke="#111" stroke-width="0.22" text-anchor="start" textLength="51.7" lengthAdjust="spacingAndGlyphs">Findings inconsistent</text>
<text x="670.8" y="867.8" font-family="Liberation Sans, Arial, sans-serif" font-size="5.8" font-weight="normal" fill="#111" stroke="#111" stroke-width="0.22" text-anchor="start" textLength="61.9" lengthAdjust="spacingAndGlyphs">with state of downstream</text>
<text x="670.8" y="875.8" font-family="Liberation Sans, Arial, sans-serif" font-size="5.8" font-weight="normal" fill="#111" stroke="#111" stroke-width="0.22" text-anchor="start" textLength="22.5" lengthAdjust="spacingAndGlyphs">molecule</text>
<line x1="655" y1="880.5" x2="668.4" y2="880.5" stroke="#666" stroke-width="1.35"/>
<text x="670.8" y="882.7" font-family="Liberation Sans, Arial, sans-serif" font-size="5.8" font-weight="normal" fill="#111" stroke="#111" stroke-width="0.22" text-anchor="start" textLength="48.1" lengthAdjust="spacingAndGlyphs">Effect not predicted</text>
</g>
</svg>
</body></html>
